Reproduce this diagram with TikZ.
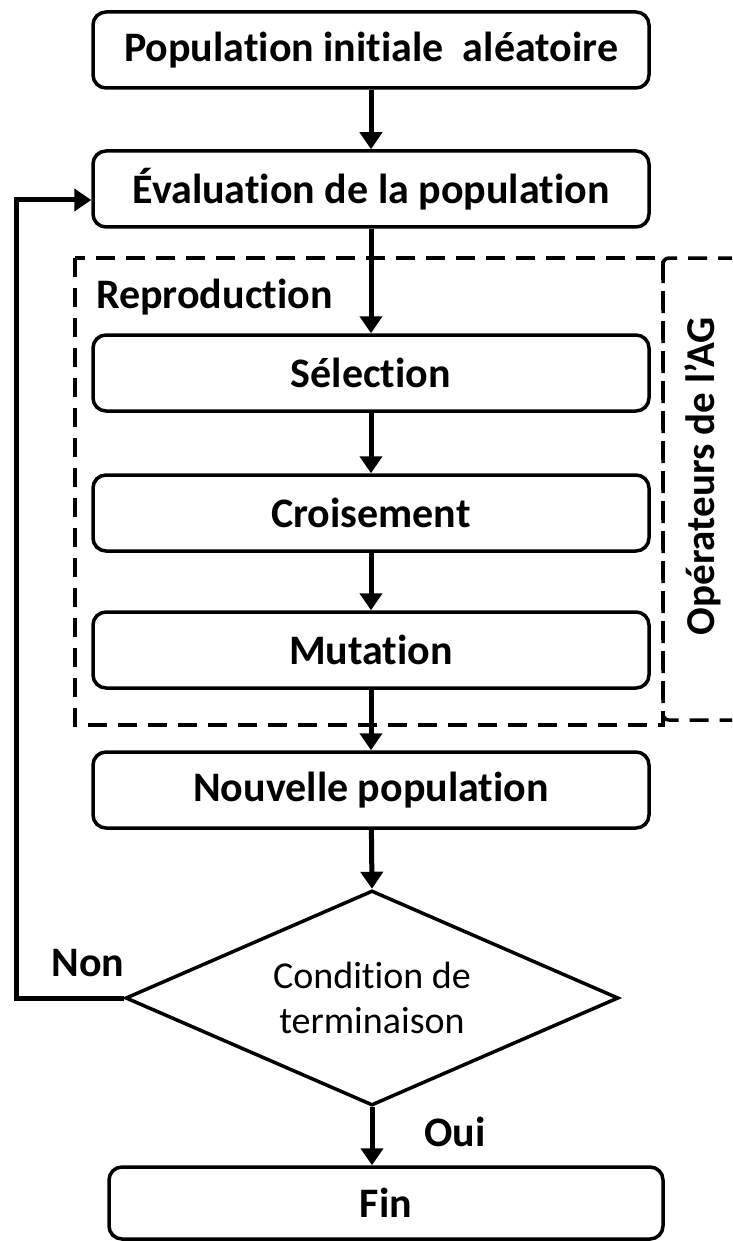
\documentclass[tikz,border=0pt]{standalone}
\usepackage{fontspec}
\setmainfont{Carlito}[Ligatures=NoCommon, Contextuals=NoAlternate]
\usetikzlibrary{shapes.geometric, arrows.meta}

\begin{document}
\begin{tikzpicture}[x=1pt, y=-1pt,
  stepbox/.style={draw, line width=3.5pt, rounded corners=13pt,
    minimum width=556pt, minimum height=76pt, inner sep=0pt,
    font=\fontsize{42}{50}\selectfont\bfseries},
  decision/.style={draw, diamond, shape aspect=2.3, line width=3.5pt, inner sep=0pt,
    minimum width=493pt, minimum height=215pt, align=center,
    font=\fontsize{38}{45}\selectfont},
  lbl/.style={inner sep=0pt, font=\fontsize{42}{50}\selectfont\bfseries},
  flow/.style={line width=5pt, -{Triangle[length=17pt, width=22pt]}},
  dashbox/.style={line width=3.5pt, dash pattern=on 19pt off 11pt},
]
\useasboundingbox (0,0) rectangle (732,1241);

% grouping frames
\begin{scope}
  \clip (0,0) rectangle (732,1241);
  \draw[dashbox] (75,258) rectangle (663,725);
  \draw[dashbox, rounded corners=6pt] (663,258) rectangle (770,720);
\end{scope}

% steps
\node[stepbox] (init) at (371,50)  {Population initiale\ \ aléatoire};
\node[stepbox] (eval) at (371,189) {Évaluation de la population};
\node[stepbox] (sel)  at (371,373) {Sélection};
\node[stepbox] (cro)  at (371,513) {Croisement};
\node[stepbox] (mut)  at (371,650) {Mutation};
\node[stepbox] (nouv) at (371,790) {Nouvelle population};
\node[decision] (cond) at (372,998) {Condition de\\terminaison};
\node[stepbox, minimum width=554pt, minimum height=72pt] (fin) at (386,1203) {Fin};

% labels
\node[lbl, anchor=west] (rep) at (96,297) {Reproduction};
\node[lbl, rotate=90, font=\fontsize{41}{48}\selectfont\bfseries] (ops) at (703,476) {Opérateurs de l’AG};
\node[lbl] (non) at (88,963) {Non};
\node[lbl] (oui) at (455,1132) {Oui};

% loop-back corner
\coordinate (loop) at (16,200);

% connectors
\draw[flow] (init) -- (eval);
\draw[flow] (eval) -- (sel);
\draw[flow] (sel) -- (cro);
\draw[flow] (cro) -- (mut);
\draw[flow] (mut) -- (nouv);
\draw[flow] (nouv) -- (cond.north);
\draw[flow] (cond.south) -- (cond.south |- fin.north);
\draw[flow] (cond.west) -| (loop) -- (eval.west |- loop);
\end{tikzpicture}
\end{document}
